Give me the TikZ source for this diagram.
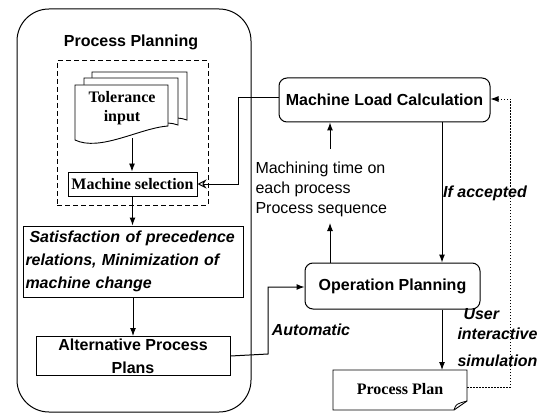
\documentclass[tikz,border=0pt]{standalone}
\usepackage{fontspec}
\setmainfont{Liberation Serif}
\setsansfont{Liberation Sans}
\usetikzlibrary{arrows.meta}
\begin{document}
\begin{tikzpicture}[x=1pt,y=-1pt,line width=1pt,
  lbl/.style={font=\fontsize{16}{23}\selectfont\sffamily\bfseries, inner sep=0pt},
  ilbl/.style={font=\fontsize{16}{23}\selectfont\sffamily\bfseries\itshape, inner sep=0pt},
  plain/.style={font=\fontsize{16}{20}\selectfont\sffamily, inner sep=0pt},
  serifb/.style={font=\fontsize{16}{19}\selectfont\rmfamily\bfseries, inner sep=0pt},
  boxed/.style={draw, fill=white, inner sep=0pt},
  rboxed/.style={draw, fill=white, rounded corners=8pt, inner sep=0pt},
  arr/.style={-{Latex[length=8pt,width=6pt]}},
  openarr/.style={-{Stealth[open,length=9pt,width=9pt]}},
  docpage/.style={draw, fill=white, line width=0.9pt}]
\useasboundingbox (0,0) rectangle (545,414);

% Process planning frame
\node[draw, rounded corners=32pt, minimum width=234pt, minimum height=403pt] (frame) at (134,210.5) {};
\node[lbl] (title) at (131,42) {Process Planning};
\node[draw, dash pattern=on 5pt off 3pt, minimum width=151pt, minimum height=144pt] (selgroup) at (132.5,133) {};

% Tolerance input: stack of documents
\draw[docpage] (92,72) -- (187,72) -- (187,120) .. controls (160,110) and (130,140) .. (92,128) -- cycle;
\draw[docpage] (84,78) -- (178,78) -- (178,125) .. controls (150,115) and (120,145) .. (84,134) -- cycle;
\draw[docpage] (75,85) -- (168,85) -- (168,126) .. controls (140,128) and (100,152) .. (75,140) -- cycle;
\node[serifb, align=center] (tol) at (122,108) {Tolerance\\input};
\coordinate (tolbot) at (132,138);

% Boxes of the planning column
\node[boxed, serifb, minimum width=129pt, minimum height=24pt] (ms) at (132.5,184) {Machine selection};
\node[boxed, ilbl, minimum width=220pt, minimum height=71pt, text width=215pt, align=left] (sat) at (133,261.5)
  {\hspace*{4pt}Satisfaction of precedence\\relations, Minimization of\\machine change};
\node[boxed, lbl, minimum width=194pt, minimum height=39pt, align=center] (alt) at (133,356)
  {Alternative Process\\Plans};

% Right-hand blocks
\node[rboxed, lbl, minimum width=211pt, minimum height=44pt] (mlc) at (384.5,100) {Machine Load Calculation};
\node[rboxed, lbl, minimum width=175pt, minimum height=46pt] (op) at (392.5,286) {Operation Planning};

% Process plan document with folded corner
\draw[docpage] (333,370) -- (467,370) -- (467,401) -- (454,410) -- (333,410) -- cycle;
\draw[line width=0.8pt] (454,410) .. controls (456,404) .. (467,401);
\node[serifb] (pplan) at (400,389) {Process Plan};
\coordinate (pplanR) at (467,387);

% Labels
\node[plain, align=left, anchor=west] (mt) at (255,189) {Machining time on\\each process\\Process sequence};
\node[ilbl] (acc) at (485,193) {If accepted};
\node[ilbl] (auto) at (311,330) {Automatic};
\node[ilbl, anchor=west] (usr) at (463,314) {User};
\node[ilbl, anchor=west] (inter) at (457,334) {interactive};
\node[ilbl, anchor=west] (simu) at (457,361) {simulation};

% Connectors
\draw[arr, line width=0.9pt] (tolbot) -- (ms.north -| tolbot);
\draw[arr] (ms.south) -- (sat.north -| ms.south);
\draw[arr] (sat.south) -- (alt.north);
\draw[arr] (alt.east) -- (268,354) -- (268,287) -- (op.west |- 0,287);
\draw[openarr] (mlc.west |- 0,98) -- (238,98) -- (238,184) -- (ms.east);
\draw[arr] ([xshift=-62.5pt]op.north) -- (330,223);
\draw[arr] (330,149) -- ([xshift=-54.5pt]mlc.south);
\draw[arr] ([xshift=57.5pt]mlc.south) -- ([xshift=49.5pt]op.north);
\draw[arr] ([xshift=49.5pt]op.south) -- (442,370);
\draw[arr, dash pattern=on 1.5pt off 1.5pt, line width=0.9pt] (pplanR) -- (510,387) -- (510,99) -- (mlc.east |- 0,99);
\end{tikzpicture}
\end{document}
